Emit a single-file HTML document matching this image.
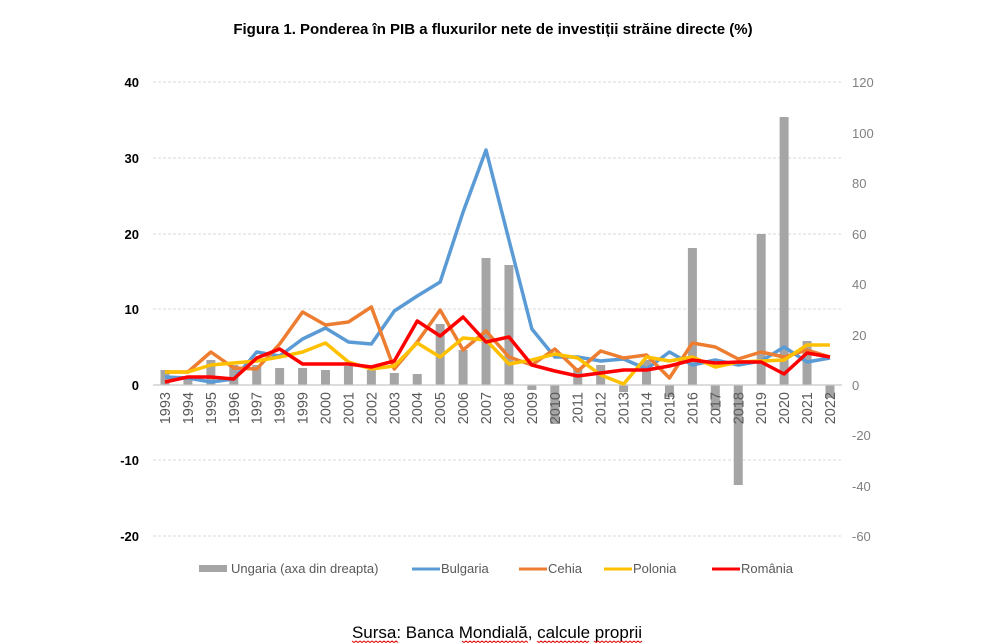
<!DOCTYPE html>
<html><head><meta charset="utf-8"><style>
body{margin:0;background:#fff;width:987px;height:643px;overflow:hidden}
svg{display:block}
</style></head><body>
<svg id="s" width="987" height="643" xmlns="http://www.w3.org/2000/svg" font-family="Liberation Sans, sans-serif">
<text x="493" y="34" text-anchor="middle" font-size="15" font-weight="bold" fill="#000">Figura 1. Ponderea în PIB a fluxurilor nete de investiții străine directe (%)</text>
<g stroke="#d9d9d9" stroke-dasharray="3,2" stroke-width="1">
<line x1="153" x2="842" y1="82" y2="82"/><line x1="153" x2="842" y1="158" y2="158"/>
<line x1="153" x2="842" y1="234" y2="234"/><line x1="153" x2="842" y1="309" y2="309"/>
<line x1="153" x2="842" y1="460" y2="460"/><line x1="153" x2="842" y1="536" y2="536"/>
</g>
<g font-size="13" font-weight="bold" text-anchor="end" fill="#000">
<text x="139" y="87">40</text><text x="139" y="163">30</text><text x="139" y="239">20</text><text x="139" y="314">10</text><text x="139" y="390">0</text><text x="139" y="465">-10</text><text x="139" y="541">-20</text>
</g>
<g font-size="13" fill="#808080">
<text x="852" y="87">120</text><text x="852" y="138">100</text><text x="852" y="188">80</text><text x="852" y="239">60</text><text x="852" y="289">40</text><text x="852" y="340">20</text><text x="852" y="390">0</text><text x="852" y="440">-20</text><text x="852" y="491">-40</text><text x="852" y="541">-60</text>
</g>
<g id="bars" fill="#a5a5a5"></g>
<line x1="153" x2="842" y1="385" y2="385" stroke="#c8c8c8" stroke-width="1.2"/>
<g id="years" font-size="14.5" fill="#595959"></g>
<g id="lines" fill="none" stroke-width="3.5" stroke-linejoin="round"></g>
<g font-size="13" fill="#595959">
<rect x="199" y="565" width="28" height="7" fill="#a5a5a5"/><text x="231" y="573">Ungaria (axa din dreapta)</text>
<line x1="412" x2="440" y1="569" y2="569" stroke="#5b9bd5" stroke-width="3"/><text x="441" y="573">Bulgaria</text>
<line x1="519" x2="547" y1="569" y2="569" stroke="#ed7d31" stroke-width="3"/><text x="548" y="573">Cehia</text>
<line x1="604" x2="632" y1="569" y2="569" stroke="#ffc000" stroke-width="3"/><text x="633" y="573">Polonia</text>
<line x1="712" x2="740" y1="569" y2="569" stroke="#ff0000" stroke-width="3"/><text x="741" y="573">România</text>
</g>
<text x="497" y="638" text-anchor="middle" font-size="17" fill="#000">Sursa: Banca Mondială, calcule proprii</text>
<g id="wavy" fill="none" stroke="#e00000" stroke-width="1"></g>
</svg>
<script>
var NS="http://www.w3.org/2000/svg";
function X(i){return 165+i*22.93;}
var bars=[370,376,360,365,365,368,368,370,366,370,373,374,324,350,258,265,390,424,368,365,392,360,397,248,410,485,234,117,341,398];
var bg=document.getElementById('bars');
bars.forEach(function(t,i){var r=document.createElementNS(NS,'rect');var y=Math.min(t,385),h=Math.abs(385-t);
r.setAttribute('x',X(i)-4.5);r.setAttribute('y',y);r.setAttribute('width',9);r.setAttribute('height',h);bg.appendChild(r);});
var yg=document.getElementById('years');
for(var i=0;i<30;i++){var t=document.createElementNS(NS,'text');t.setAttribute('transform','translate('+(X(i)+5)+',392) rotate(-90)');t.setAttribute('text-anchor','end');t.textContent=1993+i;yg.appendChild(t);}
var S={
"#5b9bd5":[377,378,382,379,352,356,339,328,342,344,311,296,282,212,150,240,329,357,357,361,359,369,352,365,360,365,361,347,362,358],
"#ed7d31":[372,372,352,368,369,344,312,325,322,307,369,342,310,350,331,357,365,349,371,351,358,355,378,343,347,359,352,357,350,357],
"#ffc000":[372,372,365,363,361,357,352,343,362,369,366,343,357,338,340,364,360,354,358,375,384,357,361,357,367,362,361,360,345,345],
"#ff0000":[382,377,377,379,358,349,364,364,364,367,361,321,336,317,342,337,365,371,376,373,370,370,366,360,363,362,362,374,353,357]};
var lg=document.getElementById('lines');
for(var c in S){var p=document.createElementNS(NS,'polyline');p.setAttribute('points',S[c].map(function(v,i){return X(i)+','+v}).join(' '));p.setAttribute('stroke',c);lg.appendChild(p);}
var wg=document.getElementById('wavy');
[[352,398],[462,528],[537,590],[594,642]].forEach(function(r){var pts=[];for(var x=r[0],k=0;x<=r[1];x+=2,k++)pts.push(x+','+(641+(k%2?1.5:0)));var p=document.createElementNS(NS,'polyline');p.setAttribute('points',pts.join(' '));wg.appendChild(p);});
</script>
</body></html>
